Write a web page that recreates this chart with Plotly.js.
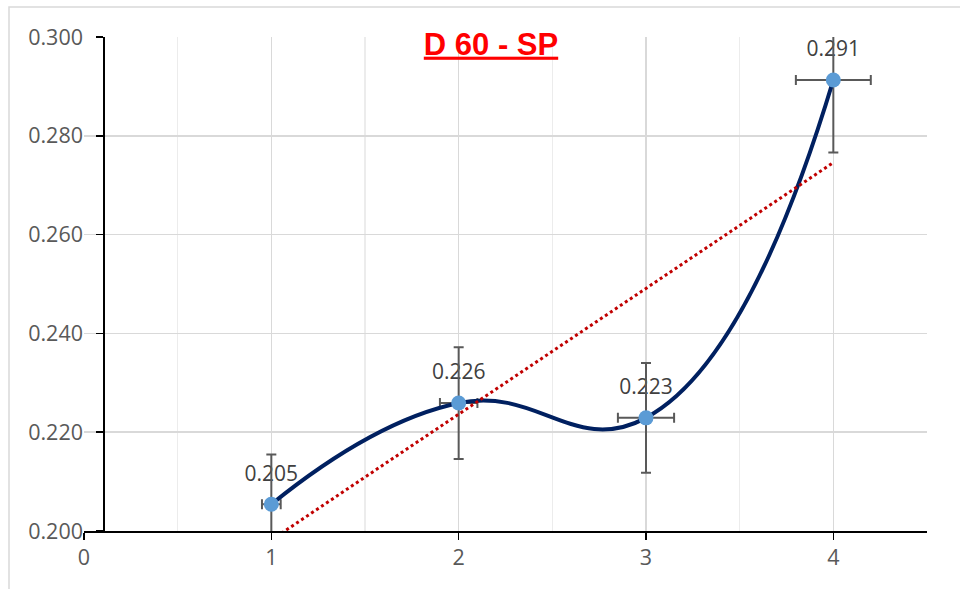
<!DOCTYPE html>
<html>
<head>
<meta charset="utf-8">
<script src="https://cdn.plot.ly/plotly-3.0.1.min.js"></script>
<style>
  html, body { margin: 0; padding: 0; background: #ffffff; }
  #chart { width: 960px; height: 589px; }
</style>
</head>
<body>
<div id="chart"></div>
<script>
// Sample index and mean values
const sampleX = [1, 2, 3, 4];
const meanY = [0.2054, 0.2259, 0.2229, 0.2913];
const labelText = ['0.205', '0.226', '0.223', '0.291'];
// Error bar half-widths
const errY = [0.0101, 0.0113, 0.0111, 0.0147];
const errX = [0.05, 0.10, 0.15, 0.20];

const titleText = 'D 60 - SP';
const xTickVals = [0, 1, 2, 3, 4];
const xTickText = ['0', '1', '2', '3', '4'];

// Least-squares linear trend over the means
function linearFit(xs, ys) {
  const n = xs.length;
  const mx = xs.reduce((a, b) => a + b, 0) / n;
  const my = ys.reduce((a, b) => a + b, 0) / n;
  let sxy = 0, sxx = 0;
  for (let i = 0; i < n; i++) {
    sxy += (xs[i] - mx) * (ys[i] - my);
    sxx += (xs[i] - mx) * (xs[i] - mx);
  }
  const slope = sxy / sxx;
  return { slope: slope, intercept: my - slope * mx };
}
const fit = linearFit(sampleX, meanY);
const trendX = [sampleX[0], sampleX[sampleX.length - 1]];
const trendY = trendX.map(x => fit.intercept + fit.slope * x);

const labelFont = { family: 'Open Sans, sans-serif', size: 21, color: '#404040' };
const tickFont = { family: 'Open Sans, sans-serif', size: 21.5, color: '#595959' };

const traces = [
  // value labels (drawn beneath the error bars)
  {
    x: sampleX, y: meanY, text: labelText,
    mode: 'markers+text', textposition: 'top center',
    marker: { size: 28, color: 'rgba(0,0,0,0)' },
    textfont: labelFont, cliponaxis: false,
    hoverinfo: 'skip', showlegend: false
  },
  // smoothed series with markers and error bars
  {
    x: sampleX, y: meanY,
    mode: 'lines+markers',
    line: { shape: 'spline', smoothing: 1.3, color: '#002060', width: 4 },
    marker: { size: 15, color: '#5b9bd5' },
    error_y: { type: 'data', array: errY, visible: true, color: '#595959', thickness: 2, width: 5 },
    error_x: { type: 'data', array: errX, visible: true, color: '#595959', thickness: 2, width: 5 },
    showlegend: false
  },
  // linear trendline
  {
    x: trendX, y: trendY,
    mode: 'lines',
    line: { color: '#c00000', width: 3, dash: 'dot' },
    hoverinfo: 'skip', showlegend: false
  },
  // carrier for the y axis line crossing at x = 0.1
  {
    x: [0.1], y: [0.25], yaxis: 'y2', mode: 'markers',
    marker: { size: 1, color: 'rgba(0,0,0,0)' },
    hoverinfo: 'skip', showlegend: false
  }
];

const plotL = 84, plotR = 927, plotT = 37, plotB = 531;
const pw = plotR - plotL, ph = plotB - plotT;
const px = v => (v - plotL) / pw;
const py = v => (plotB - v) / ph;

const layout = {
  width: 960, height: 589,
  margin: { l: plotL, r: 960 - plotR, t: plotT, b: 589 - plotB, pad: 0 },
  paper_bgcolor: '#ffffff', plot_bgcolor: '#ffffff',
  showlegend: false,
  title: {
    text: '<u>' + titleText + '</u>',
    font: { family: 'Liberation Sans, Arial, sans-serif', size: 31, color: '#ff0000', weight: 'bold' },
    xref: 'container', x: 491 / 960, xanchor: 'center',
    yref: 'container', y: 1 - 33 / 589, yanchor: 'top'
  },
  xaxis: {
    range: [0, 4.5],
    tickvals: xTickVals, ticktext: xTickText,
    showline: true, linecolor: '#000000', linewidth: 1.5,
    ticks: 'outside', ticklen: 7, tickwidth: 1.5, tickcolor: '#000000',
    showgrid: true, gridcolor: '#d9d9d9', gridwidth: 1.5,
    minor: { dtick: 0.5, showgrid: true, gridcolor: '#ececec', gridwidth: 1.5, ticks: '' },
    zeroline: false, tickfont: tickFont, fixedrange: true
  },
  yaxis: {
    range: [0.2, 0.3], dtick: 0.02, tick0: 0.2, tickformat: '.3f',
    showline: false, ticks: '',
    showgrid: true, gridcolor: '#d9d9d9', gridwidth: 1.5,
    zeroline: false, tickfont: tickFont, fixedrange: true
  },
  yaxis2: {
    range: [0.2, 0.3], dtick: 0.02, tick0: 0.2,
    overlaying: 'y', anchor: 'free', side: 'left', position: 19 / pw,
    showline: true, linecolor: '#000000', linewidth: 1.5,
    ticks: 'outside', ticklen: 7, tickwidth: 1.5, tickcolor: '#000000',
    showticklabels: false, showgrid: false, zeroline: false, fixedrange: true
  },
  shapes: [
    {
      type: 'rect', xref: 'paper', yref: 'paper', layer: 'below',
      x0: px(9), x1: px(966), y0: py(600), y1: py(7),
      line: { color: '#d9d9d9', width: 1.5 }, fillcolor: 'rgba(0,0,0,0)'
    }
  ]
};

Plotly.newPlot('chart', traces, layout, { displayModeBar: false, staticPlot: true });
</script>
</body>
</html>
